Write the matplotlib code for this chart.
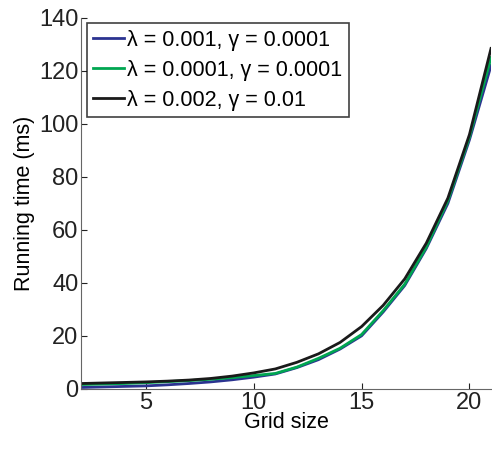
import matplotlib
matplotlib.use('Agg')
import matplotlib.pyplot as plt

plt.rcParams['font.family'] = ['Liberation Sans', 'DejaVu Sans']

grid = list(range(2, 22))
t_a = [0.5, 0.7, 0.9, 1.1, 1.5, 2.0, 2.6, 3.4, 4.4, 5.6, 8.0, 11.0, 15.0, 20.0, 29.0, 39.0, 53.0, 70.0, 94.0, 122.0]
t_b = [1.6, 1.8, 2.0, 2.3, 2.7, 3.1, 3.6, 4.2, 5.0, 5.8, 8.2, 11.5, 15.3, 20.5, 29.5, 39.5, 53.5, 71.0, 95.0, 125.0]
t_c = [2.0, 2.2, 2.4, 2.6, 2.9, 3.3, 3.9, 4.8, 6.0, 7.5, 10.0, 13.2, 17.5, 23.5, 31.5, 41.5, 55.0, 72.0, 96.0, 128.5]
labels = ['λ = 0.001, γ = 0.0001', 'λ = 0.0001, γ = 0.0001', 'λ = 0.002, γ = 0.01']
colors = ['#2b3390', '#00a651', '#1a1a1a']

fig = plt.figure(figsize=(4.92, 4.5), dpi=100)
ax = fig.add_axes([0.165, 0.136, 0.833, 0.824])

for ys, lab, c in zip([t_a, t_b, t_c], labels, colors):
    ax.plot(grid, ys, color=c, lw=2, label=lab)

ax.set_xlim(2, 21)
ax.set_ylim(0, 140)
ax.set_xticks([5, 10, 15, 20])
ax.set_yticks(range(0, 141, 20))
ax.tick_params(direction='in', labelsize=17, colors='#222222', length=4, pad=2)
for s in ['top', 'right']:
    ax.spines[s].set_visible(False)
for s in ['left', 'bottom']:
    ax.spines[s].set_color('#666666')
ax.set_xlabel('Grid size', fontsize=15.5, labelpad=-1)
ax.set_ylabel('Running time (ms)', fontsize=15.5, labelpad=3)

leg = ax.legend(loc='upper left', fontsize=15.5, frameon=True, fancybox=False,
                edgecolor='#111111', borderaxespad=0.25, handlelength=1.45,
                handletextpad=0.15, borderpad=0.3, labelspacing=0.42)
leg.get_frame().set_linewidth(1.2)

fig.savefig('out.png', dpi=100)
